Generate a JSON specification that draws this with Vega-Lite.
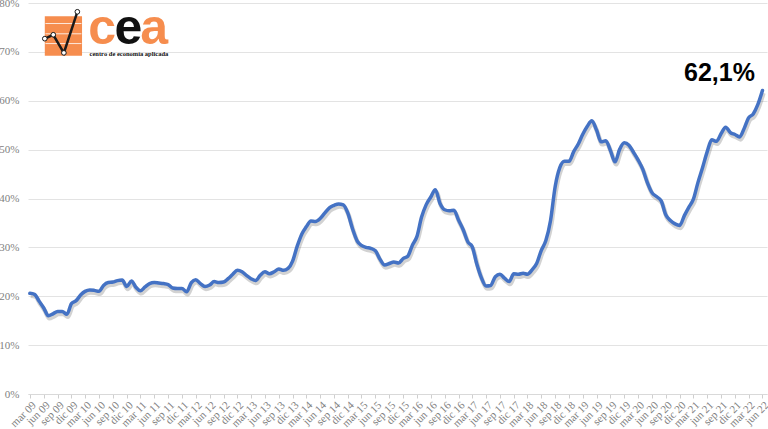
{
  "$schema": "https://vega.github.io/schema/vega-lite/v6.json",
  "width": 739,
  "height": 391,
  "autosize": {"type": "none"},
  "padding": {"left": 28, "top": 3, "right": 1, "bottom": 35},
  "background": "white",
  "config": {"view": {"stroke": null}},
  "datasets": {
    "principal": [
      {"fecha": "2009/03/01", "valor": 20.6}, {"fecha": "2009/04/01", "valor": 20.4}, {"fecha": "2009/05/01", "valor": 19.0}, {"fecha": "2009/06/01", "valor": 17.6}, {"fecha": "2009/07/01", "valor": 16.0}, {"fecha": "2009/08/01", "valor": 16.4}, {"fecha": "2009/09/01", "valor": 16.9}, {"fecha": "2009/10/01", "valor": 16.9}, {"fecha": "2009/11/01", "valor": 16.3}, {"fecha": "2009/12/01", "valor": 18.5},
      {"fecha": "2010/01/01", "valor": 19.1}, {"fecha": "2010/02/01", "valor": 20.3}, {"fecha": "2010/03/01", "valor": 21.0}, {"fecha": "2010/04/01", "valor": 21.3}, {"fecha": "2010/05/01", "valor": 21.2}, {"fecha": "2010/06/01", "valor": 21.0}, {"fecha": "2010/07/01", "valor": 22.2}, {"fecha": "2010/08/01", "valor": 22.8}, {"fecha": "2010/09/01", "valor": 22.9}, {"fecha": "2010/10/01", "valor": 23.2}, {"fecha": "2010/11/01", "valor": 23.3}, {"fecha": "2010/12/01", "valor": 22.0},
      {"fecha": "2011/01/01", "valor": 23.1}, {"fecha": "2011/02/01", "valor": 21.8}, {"fecha": "2011/03/01", "valor": 21.1}, {"fecha": "2011/04/01", "valor": 21.9}, {"fecha": "2011/05/01", "valor": 22.6}, {"fecha": "2011/06/01", "valor": 22.8}, {"fecha": "2011/07/01", "valor": 22.7}, {"fecha": "2011/08/01", "valor": 22.6}, {"fecha": "2011/09/01", "valor": 22.4}, {"fecha": "2011/10/01", "valor": 21.7}, {"fecha": "2011/11/01", "valor": 21.6}, {"fecha": "2011/12/01", "valor": 21.6},
      {"fecha": "2012/01/01", "valor": 20.9}, {"fecha": "2012/02/01", "valor": 22.8}, {"fecha": "2012/03/01", "valor": 23.4}, {"fecha": "2012/04/01", "valor": 22.6}, {"fecha": "2012/05/01", "valor": 22.0}, {"fecha": "2012/06/01", "valor": 22.3}, {"fecha": "2012/07/01", "valor": 23.0}, {"fecha": "2012/08/01", "valor": 22.8}, {"fecha": "2012/09/01", "valor": 22.9}, {"fecha": "2012/10/01", "valor": 23.6}, {"fecha": "2012/11/01", "valor": 24.5}, {"fecha": "2012/12/01", "valor": 25.3},
      {"fecha": "2013/01/01", "valor": 25.0}, {"fecha": "2013/02/01", "valor": 24.2}, {"fecha": "2013/03/01", "valor": 23.6}, {"fecha": "2013/04/01", "valor": 23.2}, {"fecha": "2013/05/01", "valor": 24.3}, {"fecha": "2013/06/01", "valor": 25.0}, {"fecha": "2013/07/01", "valor": 24.6}, {"fecha": "2013/08/01", "valor": 25.0}, {"fecha": "2013/09/01", "valor": 25.6}, {"fecha": "2013/10/01", "valor": 25.3}, {"fecha": "2013/11/01", "valor": 25.7}, {"fecha": "2013/12/01", "valor": 27.2},
      {"fecha": "2014/01/01", "valor": 30.3}, {"fecha": "2014/02/01", "valor": 32.8}, {"fecha": "2014/03/01", "valor": 34.2}, {"fecha": "2014/04/01", "valor": 35.4}, {"fecha": "2014/05/01", "valor": 35.3}, {"fecha": "2014/06/01", "valor": 35.9}, {"fecha": "2014/07/01", "valor": 37.0}, {"fecha": "2014/08/01", "valor": 38.1}, {"fecha": "2014/09/01", "valor": 38.6}, {"fecha": "2014/10/01", "valor": 38.9}, {"fecha": "2014/11/01", "valor": 38.7}, {"fecha": "2014/12/01", "valor": 37.0},
      {"fecha": "2015/01/01", "valor": 33.8}, {"fecha": "2015/02/01", "valor": 31.3}, {"fecha": "2015/03/01", "valor": 30.4}, {"fecha": "2015/04/01", "valor": 30.0}, {"fecha": "2015/05/01", "valor": 29.8}, {"fecha": "2015/06/01", "valor": 29.3}, {"fecha": "2015/07/01", "valor": 27.6}, {"fecha": "2015/08/01", "valor": 26.4}, {"fecha": "2015/09/01", "valor": 26.7}, {"fecha": "2015/10/01", "valor": 27.0}, {"fecha": "2015/11/01", "valor": 26.8}, {"fecha": "2015/12/01", "valor": 27.7},
      {"fecha": "2016/01/01", "valor": 28.2}, {"fecha": "2016/02/01", "valor": 30.5}, {"fecha": "2016/03/01", "valor": 32.2}, {"fecha": "2016/04/01", "valor": 36.2}, {"fecha": "2016/05/01", "valor": 38.7}, {"fecha": "2016/06/01", "valor": 40.3}, {"fecha": "2016/07/01", "valor": 41.8}, {"fecha": "2016/08/01", "valor": 39.0}, {"fecha": "2016/09/01", "valor": 37.7}, {"fecha": "2016/10/01", "valor": 37.5}, {"fecha": "2016/11/01", "valor": 37.6}, {"fecha": "2016/12/01", "valor": 35.6},
      {"fecha": "2017/01/01", "valor": 33.6}, {"fecha": "2017/02/01", "valor": 31.1}, {"fecha": "2017/03/01", "valor": 30.2}, {"fecha": "2017/04/01", "valor": 26.6}, {"fecha": "2017/05/01", "valor": 23.8}, {"fecha": "2017/06/01", "valor": 22.1}, {"fecha": "2017/07/01", "valor": 22.2}, {"fecha": "2017/08/01", "valor": 24.0}, {"fecha": "2017/09/01", "valor": 24.5}, {"fecha": "2017/10/01", "valor": 23.7}, {"fecha": "2017/11/01", "valor": 23.0}, {"fecha": "2017/12/01", "valor": 24.6},
      {"fecha": "2018/01/01", "valor": 24.5}, {"fecha": "2018/02/01", "valor": 24.7}, {"fecha": "2018/03/01", "valor": 24.5}, {"fecha": "2018/04/01", "valor": 25.4}, {"fecha": "2018/05/01", "valor": 26.7}, {"fecha": "2018/06/01", "valor": 29.4}, {"fecha": "2018/07/01", "valor": 31.4}, {"fecha": "2018/08/01", "valor": 35.5}, {"fecha": "2018/09/01", "valor": 42.5}, {"fecha": "2018/10/01", "valor": 46.3}, {"fecha": "2018/11/01", "valor": 47.6}, {"fecha": "2018/12/01", "valor": 47.6},
      {"fecha": "2019/01/01", "valor": 49.6}, {"fecha": "2019/02/01", "valor": 51.2}, {"fecha": "2019/03/01", "valor": 53.1}, {"fecha": "2019/04/01", "valor": 54.8}, {"fecha": "2019/05/01", "valor": 55.9}, {"fecha": "2019/06/01", "valor": 54.0}, {"fecha": "2019/07/01", "valor": 51.6}, {"fecha": "2019/08/01", "valor": 51.8}, {"fecha": "2019/09/01", "valor": 49.8}, {"fecha": "2019/10/01", "valor": 47.5}, {"fecha": "2019/11/01", "valor": 50.1}, {"fecha": "2019/12/01", "valor": 51.4},
      {"fecha": "2020/01/01", "valor": 50.9}, {"fecha": "2020/02/01", "valor": 49.4}, {"fecha": "2020/03/01", "valor": 47.9}, {"fecha": "2020/04/01", "valor": 46.0}, {"fecha": "2020/05/01", "valor": 43.3}, {"fecha": "2020/06/01", "valor": 41.2}, {"fecha": "2020/07/01", "valor": 40.4}, {"fecha": "2020/08/01", "valor": 39.5}, {"fecha": "2020/09/01", "valor": 36.6}, {"fecha": "2020/10/01", "valor": 35.5}, {"fecha": "2020/11/01", "valor": 34.8}, {"fecha": "2020/12/01", "valor": 34.5},
      {"fecha": "2021/01/01", "valor": 36.5}, {"fecha": "2021/02/01", "valor": 38.3}, {"fecha": "2021/03/01", "valor": 39.8}, {"fecha": "2021/04/01", "valor": 43.3}, {"fecha": "2021/05/01", "valor": 46.3}, {"fecha": "2021/06/01", "valor": 49.6}, {"fecha": "2021/07/01", "valor": 52.0}, {"fecha": "2021/08/01", "valor": 51.7}, {"fecha": "2021/09/01", "valor": 53.3}, {"fecha": "2021/10/01", "valor": 54.6}, {"fecha": "2021/11/01", "valor": 53.5}, {"fecha": "2021/12/01", "valor": 53.1},
      {"fecha": "2022/01/01", "valor": 52.6}, {"fecha": "2022/02/01", "valor": 54.4}, {"fecha": "2022/03/01", "valor": 56.5}, {"fecha": "2022/04/01", "valor": 57.3}, {"fecha": "2022/05/01", "valor": 59.2}, {"fecha": "2022/06/01", "valor": 62.1}
    ],
    "anotacion": [{"fecha": "2022/06/01", "valor": 62.1, "etiqueta": "62,1%"}],
    "logo_cuadro": [{"fecha": "2009/06/08", "fecha2": "2010/02/09", "valor": 69.2, "valor2": 77.3}],
    "logo_lineas": [
      {"fecha": "2009/06/12", "fecha2": "2010/02/05", "valor": 75.8},
      {"fecha": "2009/06/12", "fecha2": "2010/02/05", "valor": 73.7},
      {"fecha": "2009/06/12", "fecha2": "2010/02/05", "valor": 71.7}
    ],
    "logo_trazo": [
      {"fecha": "2009/06/08", "valor": 72.7},
      {"fecha": "2009/08/03", "valor": 73.5},
      {"fecha": "2009/10/12", "valor": 69.8},
      {"fecha": "2010/01/09", "valor": 78.2}
    ],
    "logo_texto": [
      {"parte": "c", "fecha": "2010/06/22", "valor": 71.6},
      {"parte": "e", "fecha": "2010/12/13", "valor": 71.6},
      {"parte": "a", "fecha": "2011/06/01", "valor": 71.6},
      {"parte": "centro de economía aplicada", "fecha": "2010/12/16", "valor": 69.2}
    ]
  },
  "encoding": {
    "x": {
      "field": "fecha",
      "type": "temporal",
      "scale": {"domain": [{"year": 2009, "month": 2, "date": 17}, {"year": 2022, "month": 7, "date": 1}], "nice": false},
      "axis": {
        "title": null,
        "grid": false,
        "values": [
          {"year": 2009, "month": 3, "date": 1}, {"year": 2009, "month": 6, "date": 1}, {"year": 2009, "month": 9, "date": 1}, {"year": 2009, "month": 12, "date": 1},
          {"year": 2010, "month": 3, "date": 1}, {"year": 2010, "month": 6, "date": 1}, {"year": 2010, "month": 9, "date": 1}, {"year": 2010, "month": 12, "date": 1},
          {"year": 2011, "month": 3, "date": 1}, {"year": 2011, "month": 6, "date": 1}, {"year": 2011, "month": 9, "date": 1}, {"year": 2011, "month": 12, "date": 1},
          {"year": 2012, "month": 3, "date": 1}, {"year": 2012, "month": 6, "date": 1}, {"year": 2012, "month": 9, "date": 1}, {"year": 2012, "month": 12, "date": 1},
          {"year": 2013, "month": 3, "date": 1}, {"year": 2013, "month": 6, "date": 1}, {"year": 2013, "month": 9, "date": 1}, {"year": 2013, "month": 12, "date": 1},
          {"year": 2014, "month": 3, "date": 1}, {"year": 2014, "month": 6, "date": 1}, {"year": 2014, "month": 9, "date": 1}, {"year": 2014, "month": 12, "date": 1},
          {"year": 2015, "month": 3, "date": 1}, {"year": 2015, "month": 6, "date": 1}, {"year": 2015, "month": 9, "date": 1}, {"year": 2015, "month": 12, "date": 1},
          {"year": 2016, "month": 3, "date": 1}, {"year": 2016, "month": 6, "date": 1}, {"year": 2016, "month": 9, "date": 1}, {"year": 2016, "month": 12, "date": 1},
          {"year": 2017, "month": 3, "date": 1}, {"year": 2017, "month": 6, "date": 1}, {"year": 2017, "month": 9, "date": 1}, {"year": 2017, "month": 12, "date": 1},
          {"year": 2018, "month": 3, "date": 1}, {"year": 2018, "month": 6, "date": 1}, {"year": 2018, "month": 9, "date": 1}, {"year": 2018, "month": 12, "date": 1},
          {"year": 2019, "month": 3, "date": 1}, {"year": 2019, "month": 6, "date": 1}, {"year": 2019, "month": 9, "date": 1}, {"year": 2019, "month": 12, "date": 1},
          {"year": 2020, "month": 3, "date": 1}, {"year": 2020, "month": 6, "date": 1}, {"year": 2020, "month": 9, "date": 1}, {"year": 2020, "month": 12, "date": 1},
          {"year": 2021, "month": 3, "date": 1}, {"year": 2021, "month": 6, "date": 1}, {"year": 2021, "month": 9, "date": 1}, {"year": 2021, "month": 12, "date": 1},
          {"year": 2022, "month": 3, "date": 1}, {"year": 2022, "month": 6, "date": 1}
        ],
        "labelExpr": "['ene','feb','mar','abr','may','jun','jul','ago','sep','oct','nov','dic'][month(datum.value)] + ' ' + timeFormat(datum.value, '%y')",
        "labelAngle": -45,
        "labelFont": "Liberation Serif",
        "labelFontSize": 11,
        "labelColor": "#7f7f7f",
        "labelPadding": 1,
        "labelFlush": false,
        "labelOverlap": false,
        "labelBound": false,
        "domainColor": "#d9d9d9",
        "tickColor": "#cfcfcf",
        "tickSize": 4
      }
    },
    "y": {
      "field": "valor",
      "type": "quantitative",
      "scale": {"domain": [0, 80], "nice": false},
      "axis": {
        "title": null,
        "values": [0, 10, 20, 30, 40, 50, 60, 70, 80],
        "labelExpr": "datum.value + '%'",
        "domain": false,
        "ticks": false,
        "gridColor": "#e3e3e3",
        "labelFont": "Liberation Serif",
        "labelFontSize": 11,
        "labelColor": "#7f7f7f",
        "labelPadding": 9
      }
    }
  },
  "layer": [
    {
      "data": {"name": "principal"},
      "mark": {"type": "line", "interpolate": "monotone", "color": "#6b6b6b", "opacity": 0.3, "strokeWidth": 4.5, "xOffset": 1, "yOffset": 2.5}
    },
    {
      "data": {"name": "principal"},
      "mark": {"type": "line", "interpolate": "monotone", "color": "#4472C4", "strokeWidth": 3.5, "strokeJoin": "round", "strokeCap": "round"}
    },
    {
      "data": {"name": "anotacion"},
      "mark": {"type": "text", "font": "Liberation Sans", "fontWeight": "bold", "fontSize": 25, "align": "center", "baseline": "alphabetic", "dx": -43, "dy": -9, "color": "#000000"},
      "encoding": {"text": {"field": "etiqueta"}}
    },
    {
      "data": {"name": "logo_cuadro"},
      "mark": {"type": "rect", "color": "#F68D4E"},
      "encoding": {"x2": {"field": "fecha2"}, "y2": {"field": "valor2"}}
    },
    {
      "data": {"name": "logo_lineas"},
      "mark": {"type": "rule", "color": "#ffffff", "strokeWidth": 1, "opacity": 0.8},
      "encoding": {"x2": {"field": "fecha2"}}
    },
    {
      "data": {"name": "logo_trazo"},
      "mark": {"type": "line", "color": "#1a1a1a", "strokeWidth": 2.5},
      "encoding": {}
    },
    {
      "data": {"name": "logo_trazo"},
      "mark": {"type": "point", "shape": "circle", "filled": true, "fill": "#ffffff", "stroke": "#1a1a1a", "strokeWidth": 1, "size": 22, "opacity": 1}
    },
    {
      "data": {"name": "logo_texto"},
      "transform": [{"filter": "datum.parte == 'c' || datum.parte == 'a'"}],
      "mark": {"type": "text", "font": "Liberation Sans", "fontWeight": "bold", "fontSize": 50, "align": "center", "baseline": "alphabetic", "color": "#F68D4E"},
      "encoding": {"text": {"field": "parte"}}
    },
    {
      "data": {"name": "logo_texto"},
      "transform": [{"filter": "datum.parte == 'e'"}],
      "mark": {"type": "text", "font": "Liberation Sans", "fontWeight": "bold", "fontSize": 50, "align": "center", "baseline": "alphabetic", "color": "#111111"},
      "encoding": {"text": {"field": "parte"}}
    },
    {
      "data": {"name": "logo_texto"},
      "transform": [{"filter": "length(datum.parte) > 1"}],
      "mark": {"type": "text", "font": "Liberation Sans Narrow", "fontWeight": "bold", "fontSize": 6.5, "align": "center", "baseline": "alphabetic", "color": "#111111"},
      "encoding": {"text": {"field": "parte"}}
    }
  ]
}
